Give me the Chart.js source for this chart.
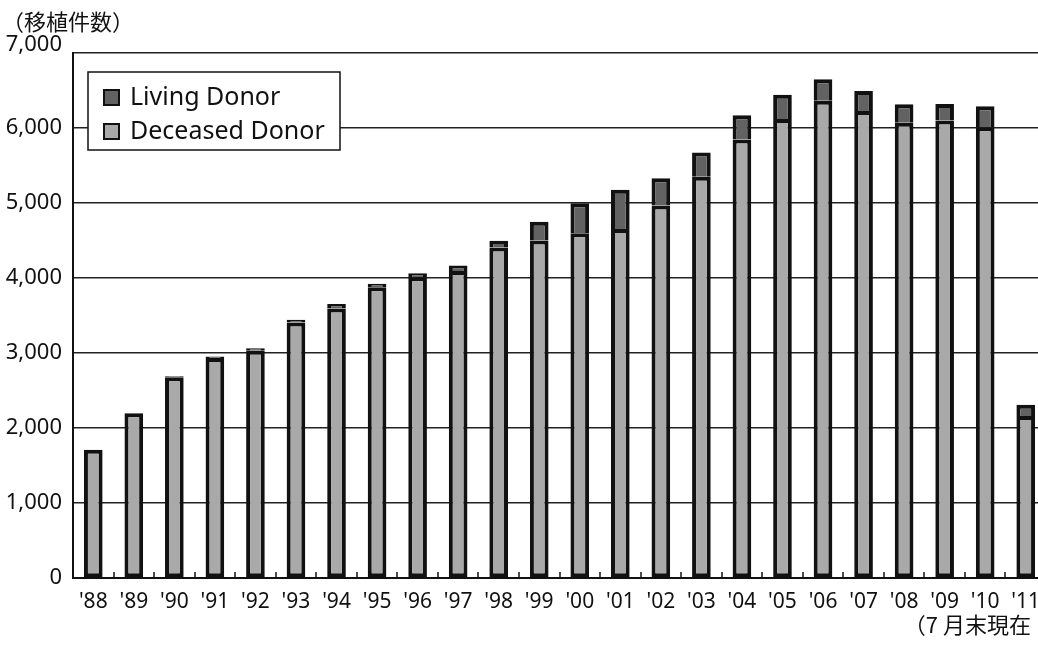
<!DOCTYPE html>
<html>
<head>
<meta charset="utf-8">
<script src="https://cdn.jsdelivr.net/npm/chart.js@4.4.1/dist/chart.umd.min.js"></script>
<style>
  html, body { margin: 0; padding: 0; background: #fff; overflow: hidden; }
  #wrap { width: 1046px; height: 645px; position: relative; }
</style>
</head>
<body>
<div id="wrap"><canvas id="chart_one" width="1046" height="645"></canvas></div>
<script>
// values
const years = ["'88","'89","'90","'91","'92","'93","'94","'95","'96","'97","'98","'99",
               "'00","'01","'02","'03","'04","'05","'06","'07","'08","'09","'10","'11"];
const deceased = [1710, 2198, 2676, 2932, 3031, 3406, 3592, 3876, 4010, 4093, 4406, 4499,
                  4598, 4653, 4968, 5351, 5846, 6121, 6362, 6228, 6069, 6101, 6009, 2160];
const living = [0, 2, 14, 22, 33, 36, 60, 46, 52, 75, 92, 252,
                399, 524, 363, 322, 323, 323, 288, 266, 249, 219, 282, 150];
const yTicks = [0, 1000, 2000, 3000, 4000, 5000, 6000, 7000];
const yTitle = "（移植件数）";
const note = "（7 月末現在";

const FONT = '"Noto Sans", "Noto Sans CJK JP", sans-serif';
const JP = '"Noto Sans CJK JP", sans-serif';

const extras = {
  id: "extras",
  afterDraw(chart) {
    const ctx = chart.ctx;
    const x = chart.scales.x, y = chart.scales.y, area = chart.chartArea;
    ctx.save();
    // small ticks between the bars, pointing up from the axis
    ctx.strokeStyle = "#111";
    ctx.lineWidth = 1.5;
    for (let i = 1; i < years.length; i++) {
      const px = Math.round((x.getPixelForTick(i - 1) + x.getPixelForTick(i)) / 2);
      ctx.beginPath();
      ctx.moveTo(px, area.bottom);
      ctx.lineTo(px, area.bottom - 6);
      ctx.stroke();
    }
    // top tick label sits a little above its line
    ctx.fillStyle = "#111";
    ctx.font = "22px " + FONT;
    ctx.textAlign = "right";
    ctx.textBaseline = "middle";
    ctx.fillText(yTicks[yTicks.length - 1].toLocaleString("en-US"), 62, y.getPixelForValue(7000) - 8);
    // legend box
    ctx.fillStyle = "#fff";
    ctx.fillRect(88, 72, 252, 78);
    ctx.strokeStyle = "#111";
    ctx.lineWidth = 1.5;
    ctx.strokeRect(88, 72, 252, 78);
    const items = chart.data.datasets.slice().reverse();
    ctx.font = "25px " + FONT;
    ctx.textAlign = "left";
    items.forEach((ds, i) => {
      const cy = 97 + i * 34;
      ctx.fillStyle = ds.backgroundColor;
      ctx.fillRect(104, cy - 7, 15, 15);
      ctx.strokeStyle = "#111";
      ctx.lineWidth = 2;
      ctx.strokeRect(104, cy - 7, 15, 15);
      ctx.fillStyle = "#111";
      ctx.fillText(ds.label, 130, cy + 1);
    });
    // axis title and note
    ctx.font = "22px " + JP;
    ctx.fillText(yTitle, 2, 22);
    ctx.textAlign = "right";
    ctx.fillText(note, 1031, 625);
    ctx.restore();
  }
};

new Chart(document.getElementById("chart_one"), {
  type: "bar",
  data: {
    labels: years,
    datasets: [
      {
        label: "Deceased Donor",
        data: deceased,
        backgroundColor: "#a9a9a9",
        borderColor: "#111",
        borderWidth: 4,
        borderSkipped: false,
        barPercentage: 0.46,
        categoryPercentage: 1
      },
      {
        label: "Living Donor",
        data: living,
        backgroundColor: "#626262",
        borderColor: "#111",
        borderWidth: 4,
        borderSkipped: "bottom",
        barPercentage: 0.46,
        categoryPercentage: 1
      }
    ]
  },
  options: {
    responsive: false,
    animation: false,
    devicePixelRatio: 1,
    layout: { padding: { top: 53, left: 0, right: 0, bottom: 0 } },
    plugins: { legend: { display: false }, tooltip: { enabled: false } },
    scales: {
      x: {
        stacked: true,
        grid: { display: false },
        border: { display: true, color: "#111", width: 2 },
        ticks: {
          color: "#111",
          font: { family: FONT, size: 21 },
          padding: 3,
          maxRotation: 0,
          autoSkip: false
        },
        afterFit(scale) { scale.height = 67; }
      },
      y: {
        stacked: true,
        min: 0,
        max: 7000,
        afterBuildTicks(scale) { scale.ticks = yTicks.map(v => ({ value: v })); },
        grid: { color: "#222", lineWidth: 1.5, drawTicks: false },
        border: { display: true, color: "#111", width: 2 },
        ticks: {
          color: "#111",
          font: { family: FONT, size: 22 },
          padding: 11,
          callback: v => v === 7000 ? "" : v.toLocaleString("en-US")
        },
        afterFit(scale) { scale.width = 73; }
      }
    }
  },
  plugins: [extras]
});
</script>
</body>
</html>
